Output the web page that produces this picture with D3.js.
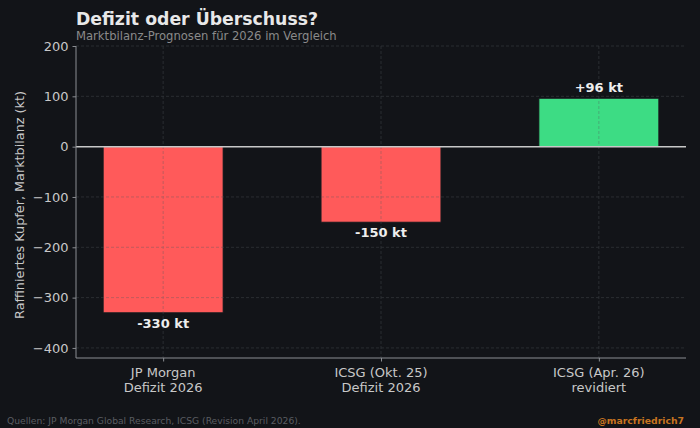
<!DOCTYPE html>
<html><head><meta charset="utf-8">
<script src="https://cdn.jsdelivr.net/npm/d3@7"></script>
<style>
html,body{margin:0;padding:0;background:#121418;}
svg{display:block;font-family:"DejaVu Sans",sans-serif;}
</style></head>
<body>
<svg id="chart" width="700" height="428"></svg>
<script>
const categories = [["JP Morgan","Defizit 2026"],["ICSG (Okt. 25)","Defizit 2026"],["ICSG (Apr. 26)","revidiert"]];
const values = [-330, -150, 96];
const valueLabels = ["-330 kt", "-150 kt", "+96 kt"];
const yTicks = [200, 100, 0, -100, -200, -300, -400];

const W = 700, H = 428;
const m = {left: 76, right: 14, top: 46, bottom: 70};
const svg = d3.select("#chart");
svg.append("rect").attr("width", W).attr("height", H).attr("fill", "#121418");

const x = d3.scaleLinear().domain([-0.4, 2.4]).range([m.left, W - m.right]);
const y = d3.scaleLinear().domain([-420, 200]).range([H - m.bottom, m.top]);
const bw = 0.55;

// bars
svg.append("g").selectAll("rect").data(values).join("rect")
  .attr("x", (d, i) => x(i - bw / 2))
  .attr("width", (d, i) => x(i + bw / 2) - x(i - bw / 2))
  .attr("y", d => y(Math.max(0, d)))
  .attr("height", d => Math.abs(y(d) - y(0)))
  .attr("fill", d => d < 0 ? "#ff5a5a" : "#3ddc84")
  .attr("stroke", "#1a1d21").attr("stroke-width", 0.8);

// grid (on top)
const grid = svg.append("g").attr("stroke", "#555a60").attr("stroke-width", 0.8)
  .attr("stroke-dasharray", "3,2").attr("opacity", 0.45);
grid.selectAll("line.h").data(yTicks).join("line").attr("class", "h")
  .attr("x1", x(-0.4)).attr("x2", x(2.4)).attr("y1", d => y(d)).attr("y2", d => y(d));
grid.selectAll("line.v").data(values).join("line").attr("class", "v")
  .attr("x1", (d, i) => x(i)).attr("x2", (d, i) => x(i)).attr("y1", y(200)).attr("y2", y(-420));

// zero line
svg.append("line").attr("x1", x(-0.4)).attr("x2", x(2.4)).attr("y1", y(0)).attr("y2", y(0))
  .attr("stroke", "#c8c8c8").attr("stroke-width", 1.5);

// axes
const yAxis = d3.axisLeft(y).tickValues(yTicks).tickSize(3.5).tickPadding(4)
  .tickFormat(d => d < 0 ? "\u2212" + Math.abs(d) : d);
const gy = svg.append("g").attr("transform", `translate(${m.left},0)`).call(yAxis);
gy.select(".domain").attr("stroke", "#8a8d92").attr("stroke-width", 1).attr("d", `M0,${y(200)}V${y(-420)}`);
gy.selectAll(".tick line").attr("stroke", "#8a8d92");
gy.selectAll(".tick text").attr("fill", "#c8c8c8").style("font-size", "13px").style("font-family", "DejaVu Sans");

const xAxis = d3.axisBottom(x).tickValues([0, 1, 2]).tickSize(3.5).tickFormat("");
const gx = svg.append("g").attr("transform", `translate(0,${H - m.bottom})`).call(xAxis);
gx.select(".domain").attr("stroke", "#8a8d92").attr("stroke-width", 1).attr("d", `M${x(-0.4)},0H${x(2.4)}`);
gx.selectAll(".tick line").attr("stroke", "#8a8d92");

// category labels
const cl = svg.append("g").selectAll("text").data(categories).join("text")
  .attr("x", (d, i) => x(i)).attr("y", H - m.bottom + 19)
  .attr("text-anchor", "middle").attr("fill", "#c8c8c8").style("font-size", "13px");
cl.each(function(d) {
  const t = d3.select(this);
  d.forEach((line, j) => t.append("tspan").attr("x", t.attr("x")).attr("dy", j === 0 ? 0 : 15).text(line));
});

// value labels
svg.append("g").selectAll("text").data(values).join("text")
  .attr("x", (d, i) => x(i))
  .attr("y", d => d < 0 ? y(d) + 15 : y(d) - 6)
  .attr("text-anchor", "middle").attr("fill", "#eeeeee")
  .style("font-size", "13px").style("font-weight", "bold")
  .text((d, i) => valueLabels[i]);

// y label
svg.append("text").attr("transform", `translate(24,${(y(200) + y(-420)) / 2 + 3}) rotate(-90)`)
  .attr("text-anchor", "middle").attr("fill", "#c8c8c8").style("font-size", "12.8px")
  .text("Raffiniertes Kupfer, Marktbilanz (kt)");

// title
svg.append("text").attr("x", 76).attr("y", 24.5).attr("fill", "#e8e8e8")
  .style("font-size", "17.3px").style("font-weight", "bold").text("Defizit oder Überschuss?");
svg.append("text").attr("x", 76).attr("y", 39.5).attr("fill", "#8a8a8a")
  .style("font-size", "11.6px").text("Marktbilanz-Prognosen für 2026 im Vergleich");

// footer
svg.append("text").attr("x", 7).attr("y", 424).attr("fill", "#5a5d62")
  .style("font-size", "9.2px").text("Quellen: JP Morgan Global Research, ICSG (Revision April 2026).");
svg.append("text").attr("x", 684).attr("y", 424).attr("text-anchor", "end").attr("fill", "#c87420")
  .style("font-size", "9.3px").style("font-weight", "bold").text("@marcfriedrich7");
</script>
</body></html>
